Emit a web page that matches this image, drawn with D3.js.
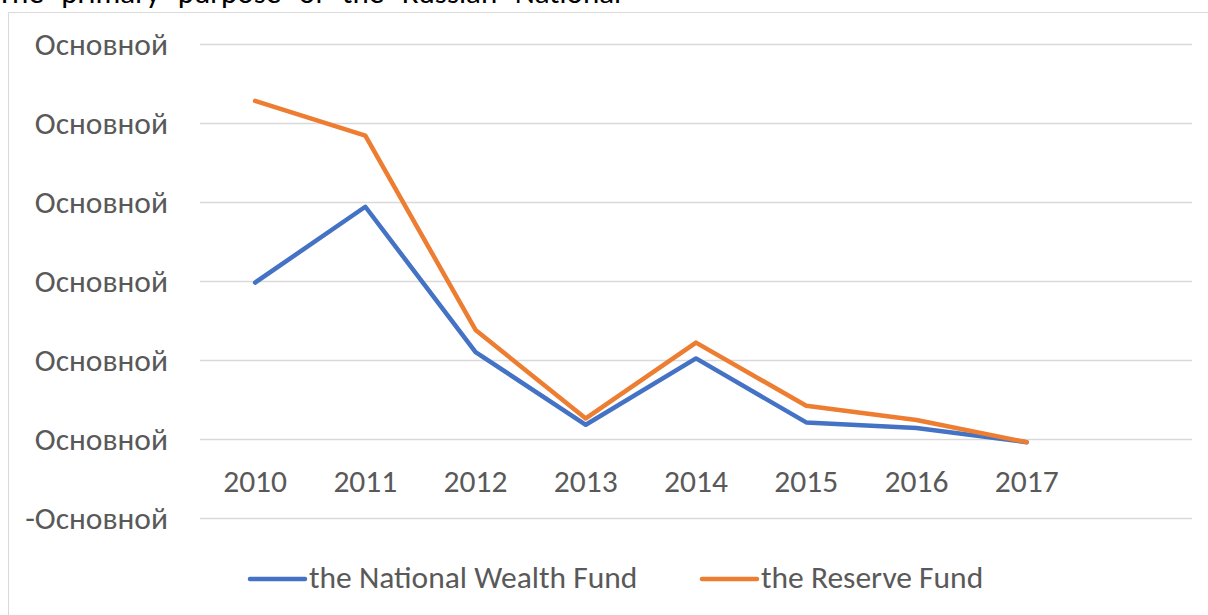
<!DOCTYPE html>
<html>
<head>
<meta charset="utf-8">
<script src="https://cdn.jsdelivr.net/npm/d3@7"></script>
<style>
  body { margin: 0; background: #fff; }
</style>
</head>
<body>
<div id="grafico"></div>
<script>
// ==============================
// DATOS
// ==============================

const years = ["2010", "2011", "2012", "2013", "2014", "2015", "2016", "2017"];
const nationalWealth = [1.98, 2.94, 1.10, 0.18, 1.02, 0.21, 0.14, -0.04];
const reserveFund = [4.28, 3.84, 1.38, 0.26, 1.22, 0.42, 0.24, -0.04];
const yTicks = [-1, 0, 1, 2, 3, 4, 5];
const seriesNames = ["the National Wealth Fund", "the Reserve Fund"];
const seriesColors = ["#4472C4", "#ED7D31"];
const titleText = "The primary purpose of the Russian National";

// ==============================
// CONFIGURACIÓN GENERAL
// ==============================

const width = 1208;
const height = 615;
const fuente = "Carlito, Calibri, 'Noto Sans', sans-serif";

const svg = d3.select("#grafico")
  .append("svg")
  .attr("width", width)
  .attr("height", height);

// Texto del documento que queda cortado arriba
svg.append("text")
  .attr("x", -3)
  .attr("y", 3)
  .attr("font-family", fuente)
  .attr("font-size", 31)
  .attr("word-spacing", 10.5)
  .attr("fill", "#000")
  .text(titleText);

// Marco del gráfico
svg.append("path")
  .attr("d", `M${width},12.5H8.5V${height}`)
  .attr("fill", "none")
  .attr("stroke", "#d9d9d9")
  .attr("stroke-width", 1);

// Escalas (9 huecos de categoría, el último vacío)
const x = d3.scaleBand()
  .domain(years.concat([""]))
  .range([200, 1192]);

const y = d3.scaleLinear()
  .domain([-1, 5])
  .range([518, 44]);

// Líneas de cuadrícula
svg.append("g")
  .selectAll("line")
  .data(yTicks)
  .join("line")
  .attr("x1", 200)
  .attr("x2", 1192)
  .attr("y1", d => Math.round(y(d)) + 0.5)
  .attr("y2", d => Math.round(y(d)) + 0.5)
  .attr("stroke", "#d9d9d9")
  .attr("stroke-width", 1.5);

// Etiquetas del eje Y
const yAxis = d3.axisLeft(y)
  .tickValues(yTicks)
  .tickSize(0)
  .tickPadding(0)
  .tickFormat(d => (d < 0 ? "-" : "") + "Основной");

const gy = svg.append("g")
  .attr("transform", "translate(168,0)")
  .call(yAxis);
gy.select(".domain").remove();
gy.selectAll("text")
  .attr("dy", "0.32em")
  .attr("font-family", fuente)
  .attr("font-size", 31.5)
  .attr("fill", "#595959");

// Etiquetas del eje X (en la línea de cero)
const xAxis = d3.axisBottom(x)
  .tickSize(0)
  .tickPadding(0);

const gx = svg.append("g")
  .attr("transform", `translate(0,${y(0)})`)
  .call(xAxis);
gx.select(".domain").remove();
gx.selectAll("text")
  .attr("y", 53)
  .attr("dy", 0)
  .attr("font-family", fuente)
  .attr("font-size", 31.5)
  .attr("fill", "#595959");

// ==============================
// SERIES
// ==============================

const line = d3.line()
  .x((d, i) => x(years[i]) + x.bandwidth() / 2)
  .y(d => y(d));

[nationalWealth, reserveFund].forEach((serie, k) => {
  svg.append("path")
    .datum(serie)
    .attr("d", line)
    .attr("fill", "none")
    .attr("stroke", seriesColors[k])
    .attr("stroke-width", 4.5)
    .attr("stroke-linejoin", "round")
    .attr("stroke-linecap", "round");
});

// ==============================
// LEYENDA
// ==============================

const legendX = [250, 702];
const legend = svg.append("g")
  .selectAll("g")
  .data(seriesNames)
  .join("g")
  .attr("transform", (d, i) => `translate(${legendX[i]},579)`);

legend.append("line")
  .attr("x1", 0)
  .attr("x2", 55)
  .attr("stroke", (d, i) => seriesColors[i])
  .attr("stroke-width", 4.5)
  .attr("stroke-linecap", "round");

legend.append("text")
  .attr("x", 59)
  .attr("y", 9)
  .attr("font-family", fuente)
  .attr("font-size", 31.5)
  .attr("fill", "#595959")
  .text(d => d);
</script>
</body>
</html>
